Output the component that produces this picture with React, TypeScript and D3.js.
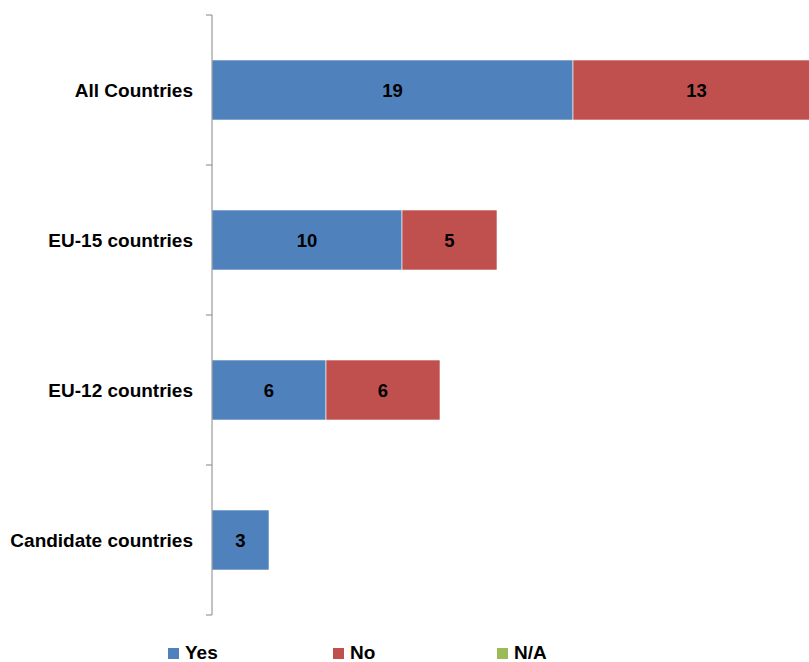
import React from "react";
import * as d3 from "d3";

const categories = ["All Countries", "EU-15 countries", "EU-12 countries", "Candidate countries"];
const yesValues = [19, 10, 6, 3];
const noValues = [13, 5, 6, 0];
const naValues = [0, 0, 0, 0];
const seriesNames = ["Yes", "No", "N/A"];
const seriesColors = ["#4F81BD", "#C0504D", "#9BBB59"];

const W = 809;
const H = 662;
const FONT = "'Liberation Sans', Arial, sans-serif";

export default function App() {
  const x = d3.scaleLinear().domain([0, 32]).range([212, 212 + 32 * 19]);
  const y = d3.scaleBand<string>().domain(categories).range([15, 615]).paddingInner(0.6).paddingOuter(0.3);
  const step = y.step();
  const tickYs = d3.range(categories.length + 1).map((i) => 15 + i * step);
  const rows = categories.map((c, i) => ({ c, vals: [yesValues[i], noValues[i], naValues[i]] }));
  const legendX = [168, 333, 497];

  return (
    <svg width={W} height={H} style={{ display: "block", position: "absolute", left: 0, top: 0 }} fontFamily={FONT}>
      <rect width={W} height={H} fill="#fff" />
      {rows.map((r) => {
        let acc = 0;
        return (
          <g key={r.c}>
            {r.vals.map((v, k) => {
              const x0 = x(acc);
              acc += v;
              if (v <= 0) return null;
              const x1 = x(acc);
              const yy = y(r.c)!;
              return (
                <g key={k}>
                  <rect x={x0} y={yy} width={x1 - x0} height={y.bandwidth()} fill={seriesColors[k]} stroke="#fff" strokeWidth={0.6} />
                  <text x={(x0 + x1) / 2} y={yy + y.bandwidth() / 2} dy="0.36em" textAnchor="middle" fontWeight="bold" fontSize={18.5} fill="#000">
                    {v}
                  </text>
                </g>
              );
            })}
            <text x={193} y={y(r.c)! + y.bandwidth() / 2} dy="0.36em" textAnchor="end" fontWeight="bold" fontSize={19} fill="#000">
              {r.c}
            </text>
          </g>
        );
      })}
      <line x1={212} x2={212} y1={15} y2={615} stroke="#868686" strokeWidth={1} />
      {tickYs.map((t, i) => (
        <line key={i} x1={206} x2={212} y1={t} y2={t} stroke="#868686" strokeWidth={1} />
      ))}
      {seriesNames.map((s, i) => (
        <g key={s}>
          <rect x={legendX[i]} y={648} width={11} height={11} fill={seriesColors[i]} />
          <text x={legendX[i] + 17} y={659} fontWeight="bold" fontSize={19} fill="#000">
            {s}
          </text>
        </g>
      ))}
    </svg>
  );
}
